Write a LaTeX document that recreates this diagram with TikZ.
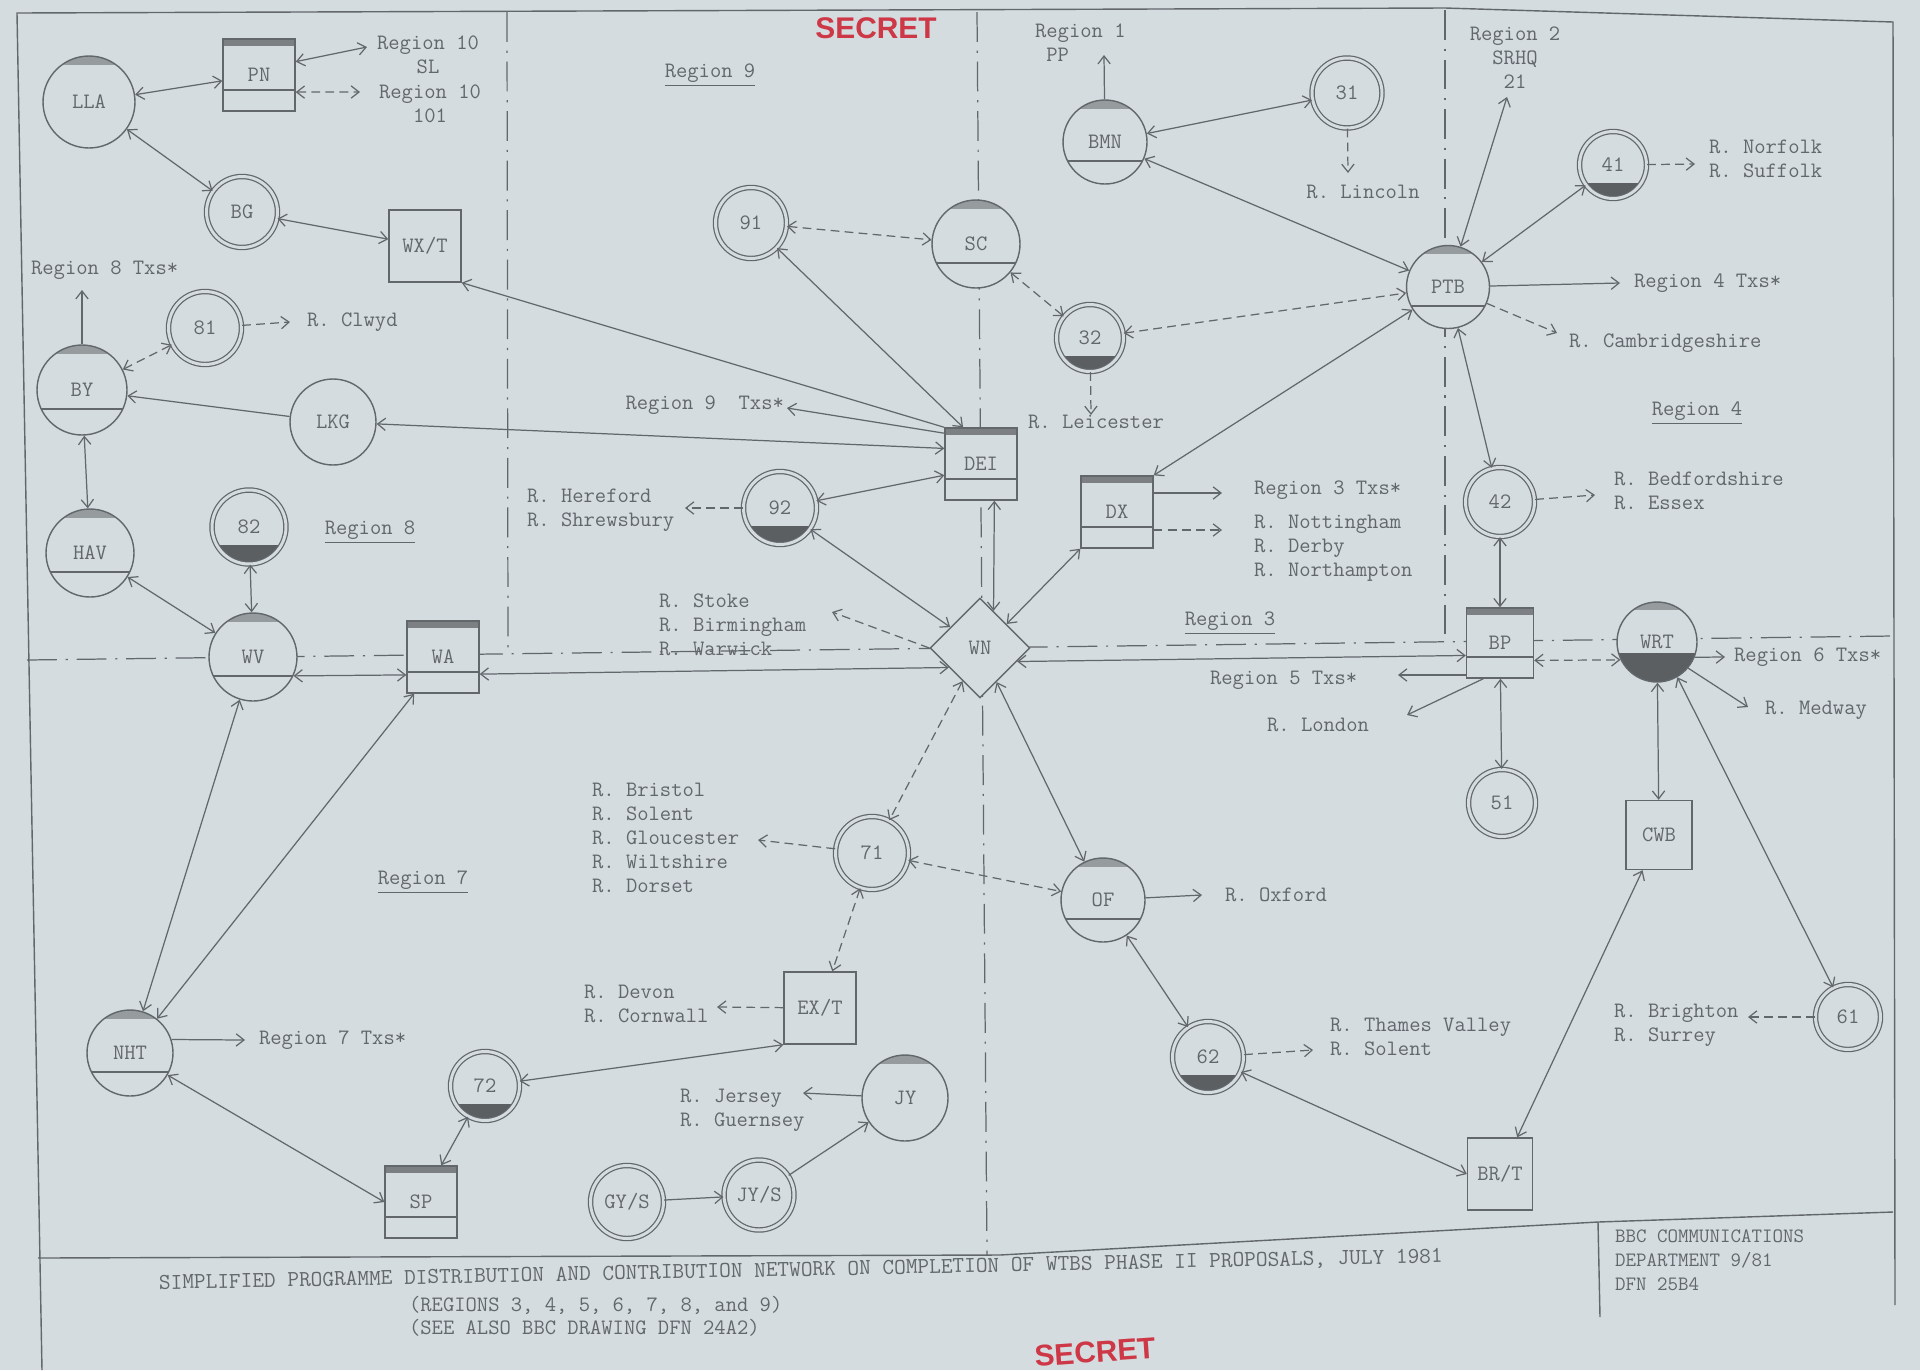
\documentclass[tikz,border=0pt]{standalone}
\usepackage{fontspec}
\newfontfamily\stampfont{Liberation Sans}
\usepackage{tikz}
\usetikzlibrary{arrows.meta,shapes.geometric}
\definecolor{paper}{RGB}{212,220,224}
\definecolor{ink}{RGB}{98,103,108}
\definecolor{capgray}{RGB}{150,155,158}
\definecolor{darkfill}{RGB}{92,95,98}
\definecolor{barfill}{RGB}{125,128,131}
\definecolor{stampred}{RGB}{205,55,70}

\begin{document}
\begin{tikzpicture}[x=0.02cm,y=-0.02cm,color=ink,
    >={Straight Barb[length=4.5pt,width=7pt]},
    font=\ttfamily\fontsize{12.5}{13.6}\selectfont,
    stn/.style={circle,draw,fill=paper,minimum size=1.74cm,inner sep=0pt,line width=0.8pt},
    topc/.style={stn,path picture={\fill[capgray] (path picture bounding box.north west) rectangle ([yshift=-0.17cm]path picture bounding box.north east);}},
    hub/.style={stn,path picture={\fill[capgray] (path picture bounding box.north west) rectangle ([yshift=-0.17cm]path picture bounding box.north east);
        \draw[line width=0.8pt] ([yshift=-0.38cm]path picture bounding box.west) -- ([yshift=-0.38cm]path picture bounding box.east);}},
    wrt/.style={stn,minimum size=1.6cm,path picture={\fill[capgray] (path picture bounding box.north west) rectangle ([yshift=-0.16cm]path picture bounding box.north east);
        \fill[darkfill] ([yshift=-0.22cm]path picture bounding box.west) rectangle (path picture bounding box.south east);}},
    rly/.style={circle,draw,double=paper,double distance=1.7pt,line width=0.7pt,fill=paper,minimum size=1.42cm,inner sep=0pt},
    rlyd/.style={rly,path picture={\fill[darkfill] ([yshift=-0.36cm]path picture bounding box.west) rectangle (path picture bounding box.south east);}},
    box/.style={rectangle,draw,fill=paper,minimum width=1.44cm,minimum height=1.44cm,inner sep=0pt,line width=0.8pt},
    boxh/.style={box,path picture={\fill[barfill] (path picture bounding box.north west) rectangle ([yshift=-0.14cm]path picture bounding box.north east);
        \draw[line width=0.8pt] ([yshift=0.42cm]path picture bounding box.south west) -- ([yshift=0.42cm]path picture bounding box.south east);}},
    dmd/.style={diamond,draw,fill=paper,minimum size=2cm,inner sep=0pt,line width=0.8pt},
    lk/.style={<->,line width=0.7pt},
    one/.style={->,line width=0.7pt},
    dsh/.style={dash pattern=on 5pt off 3pt},
    bdr/.style={line width=0.7pt,dash pattern=on 17pt off 5pt on 1.2pt off 5pt},
    lbl/.style={inner sep=1pt},
    stamp/.style={text=stampred,font=\stampfont\bfseries\fontsize{17}{17}\selectfont}]

\fill[paper] (0,0) rectangle (1920,1370);
\useasboundingbox (0,0) rectangle (1920,1370);

% frame and region boundaries
\draw[line width=0.8pt] (42,1370) -- (17,13) -- (1445,8) -- (1893,22) -- (1895,1305);
\draw[line width=0.8pt] (38,1258) -- (1000,1255) -- (1598,1222) -- (1893,1212);
\draw[line width=0.8pt] (1598,1222) -- (1600,1317);
\draw[bdr] (507,12) -- (508,650);
\draw[bdr] (977,12) -- (987,1255);
\draw[bdr] (1445,10) -- (1445,638);
\draw[bdr] (27,660) -- (1893,636);

% stations
\node[topc,minimum size=1.84cm] (LLA) at (89,102) {LLA};
\node[boxh] (PN) at (259,75) {PN};
\node[rly] (BG) at (242,212) {BG};
\node[box] (WXT) at (425,246) {WX/T};
\node[hub,minimum size=1.8cm] (BY) at (82,390) {BY};
\node[rly,minimum size=1.46cm] (s81) at (205,328) {81};
\node[stn,minimum size=1.72cm] (LKG) at (333,422) {LKG};
\node[hub,minimum size=1.76cm] (HAV) at (90,553) {HAV};
\node[rlyd,minimum size=1.48cm] (s82) at (249,527) {82};
\node[hub,minimum size=1.76cm] (WV) at (253,657) {WV};
\node[boxh] (WA) at (443,657) {WA};
\node[hub,minimum size=1.72cm] (NHT) at (130,1053) {NHT};
\node[boxh] (SP) at (421,1202) {SP};
\node[rlyd,minimum size=1.38cm] (s72) at (485,1086) {72};
\node[rly] (s91) at (751,223) {91};
\node[hub,minimum size=1.76cm] (SC) at (976,244) {SC};
\node[boxh] (DEI) at (981,464) {DEI};
\node[rlyd,minimum size=1.46cm] (s92) at (780,508) {92};
\node[dmd] (WN) at (980,648) {WN};
\node[rly,minimum size=1.46cm] (s71) at (872,853) {71};
\node[box] (EXT) at (820,1008) {EX/T};
\node[topc,minimum size=1.72cm] (JY) at (905,1098) {JY};
\node[rly,minimum size=1.46cm] (GYS) at (627,1202) {GY/S};
\node[rly,minimum size=1.4cm] (JYS) at (759,1195) {JY/S};
\node[hub,minimum size=1.68cm] (BMN) at (1105,142) {BMN};
\node[rly,minimum size=1.4cm] (s31) at (1347,93) {31};
\node[rlyd,minimum size=1.34cm] (s32) at (1090,338) {32};
\node[hub,minimum size=1.66cm] (PTB) at (1448,287) {PTB};
\node[rlyd,minimum size=1.34cm] (s41) at (1613,165) {41};
\node[boxh] (DX) at (1117,512) {DX};
\node[rly,minimum size=1.38cm] (s42) at (1500,502) {42};
\node[boxh,minimum width=1.34cm,minimum height=1.4cm] (BP) at (1500,643) {BP};
\node[rly,minimum size=1.34cm] (s51) at (1502,803) {51};
\node[wrt] (WRT) at (1657,642) {WRT};
\node[box,minimum width=1.32cm,minimum height=1.38cm] (CWB) at (1659,835) {CWB};
\node[rly,minimum size=1.3cm] (s61) at (1848,1017) {61};
\node[hub,minimum size=1.68cm] (OF) at (1103,900) {OF};
\node[rlyd,minimum size=1.42cm] (s62) at (1208,1057) {62};
\node[box,minimum width=1.3cm] (BRT) at (1500,1174) {BR/T};

% free ends
\coordinate (oSL) at (367,47);
\coordinate (o101) at (360,92);
\coordinate (o8tx) at (82,290);
\coordinate (oClw) at (290,322);
\coordinate (o9tx) at (787,408);
\coordinate (oHer) at (685,508);
\coordinate (oSto) at (832,612);
\coordinate (o7tx) at (245,1040);
\coordinate (oGlo) at (758,840);
\coordinate (oDev) at (717,1007);
\coordinate (oJer) at (803,1093);
\coordinate (oReg1) at (1104,55);
\coordinate (oLin) at (1348,173);
\coordinate (oLei) at (1091,415);
\coordinate (oReg2) at (1507,97);
\coordinate (oNor) at (1695,164);
\coordinate (o4tx) at (1620,283);
\coordinate (oCam) at (1557,333);
\coordinate (oBed) at (1595,495);
\coordinate (o3tx) at (1222,493);
\coordinate (oNot) at (1222,530);
\coordinate (o5tx) at (1398,675);
\coordinate (oLon) at (1407,715);
\coordinate (o6tx) at (1725,657);
\coordinate (oMed) at (1748,707);
\coordinate (oOxf) at (1202,895);
\coordinate (oThm) at (1313,1050);
\coordinate (oBri) at (1748,1017);

% links
\draw[lk] (LLA) -- (PN);
\draw[lk] (PN.20) -- (oSL);
\draw[lk,dsh] (PN.-25) -- (o101);
\draw[lk] (LLA) -- (BG);
\draw[lk] (BG) -- (WXT);
\draw[one] (DEI.north west) -- (WXT.south east);
\draw[one] (BY) -- (o8tx);
\draw[lk,dsh] (BY) -- (s81);
\draw[one,dsh] (s81) -- (oClw);
\draw[one] (LKG) -- (BY);
\draw[lk] (DEI.157) -- (LKG);
\draw[lk] (BY) -- (HAV);
\draw[lk] (HAV) -- (WV);
\draw[lk] (s82) -- (WV);
\draw[lk] (WV.-25) -- (WA.206);
\draw[lk] (WA.-25) -- (WN.212);
\draw[lk] (WV) -- (NHT);
\draw[lk] (WA) -- (NHT);
\draw[one] (NHT.18) -- (o7tx);
\draw[lk] (NHT) -- (SP.west);
\draw[lk] (SP) -- (s72);
\draw[lk] (s72) -- (EXT.south west);
\draw[one,dsh] (EXT) -- (oDev);
\draw[lk,dsh] (s71) -- (EXT);
\draw[one,dsh] (s71) -- (oGlo);
\draw[lk,dsh] (WN) -- (s71);
\draw[lk,dsh] (s71) -- (OF);
\draw[lk] (WN) -- (OF);
\draw[one] (OF) -- (oOxf);
\draw[lk] (OF) -- (s62);
\draw[one,dsh] (s62) -- (oThm);
\draw[lk] (s62) -- (BRT.west);
\draw[lk] (CWB) -- (BRT);
\draw[lk] (WRT) -- (CWB);
\draw[lk] (WRT.-60) -- (s61);
\draw[one,dsh] (s61) -- (oBri);
\draw[one] (GYS) -- (JYS);
\draw[one] (JYS) -- (JY);
\draw[one] (JY) -- (oJer);
\draw[lk,dsh] (s91) -- (SC);
\draw[lk] (DEI.116) -- (s91);
\draw[one] (DEI.140) -- (o9tx);
\draw[lk] (s92) -- (DEI.197);
\draw[one,dsh] (s92) -- (oHer);
\draw[lk] (s92) -- (WN);
\draw[one,dsh] (WN.west) -- (oSto);
\draw[lk] (DEI.-70) -- (WN.70);
\draw[lk] (WN.42) -- (DX.south west);
\draw[one] (o3tx -| DX.east) -- (o3tx);
\draw[one,dsh] (oNot -| DX.east) -- (oNot);
\draw[lk] (DX.north east) -- (PTB);
\draw[lk] (WN.-20) -- (BP.200);
\draw[one] (o5tx -| BP.west) -- (o5tx);
\draw[one] (BP.245) -- (oLon);
\draw[lk] (BP) -- (s42);
\draw[lk] (BP) -- (s51);
\draw[lk,dsh] (BP.-27) -- (WRT.206);
\draw[one] (WRT.-22) -- (o6tx);
\draw[one] (WRT.-40) -- (oMed);
\draw[lk] (PTB) -- (s42);
\draw[one] (PTB) -- (o4tx);
\draw[one,dsh] (PTB) -- (oCam);
\draw[lk] (PTB) -- (s41);
\draw[one,dsh] (s41) -- (oNor);
\draw[one,dsh] (s42) -- (oBed);
\draw[lk] (PTB) -- (oReg2);
\draw[lk] (BMN) -- (PTB);
\draw[lk,dsh] (s32) -- (PTB);
\draw[lk,dsh] (SC) -- (s32);
\draw[one,dsh] (s32) -- (oLei);
\draw[lk] (BMN) -- (s31);
\draw[one,dsh] (s31) -- (oLin);
\draw[one] (BMN) -- (oReg1);

% texts
\node[lbl,align=center] (tSL) at (428,55) {Region 10\\SL};
\node[lbl,align=center] (t101) at (430,104) {Region 10\\101};
\node[lbl,anchor=west] (t8tx) at (29,270) {Region 8 Txs*};
\node[lbl,anchor=west] (tClw) at (305,322) {R. Clwyd};
\node[lbl] (r9) at (710,75) {\underline{Region 9}};
\node[lbl,anchor=east] (t9tx) at (786,405) {Region 9\ \ Txs*};
\node[lbl] (r8) at (370,532) {\underline{Region 8}};
\node[lbl,anchor=west,align=left] (tHer) at (525,510) {R. Hereford\\R. Shrewsbury};
\node[lbl,anchor=west,align=left] (tSto) at (657,625) {R. Stoke\\R. Birmingham\\R. Warwick};
\node[lbl] (r7) at (423,882) {\underline{Region 7}};
\node[lbl,anchor=west,align=left] (tGlo) at (590,838) {R. Bristol\\R. Solent\\R. Gloucester\\R. Wiltshire\\R. Dorset};
\node[lbl,anchor=west] (t7tx) at (257,1040) {Region 7 Txs*};
\node[lbl,anchor=west,align=left] (tDev) at (582,1004) {R. Devon\\R. Cornwall};
\node[lbl,anchor=west,align=left] (tJer) at (678,1110) {R. Jersey\\R. Guernsey};
\node[lbl,anchor=west,align=left] (tReg1) at (1033,43) {Region 1\\\ PP};
\node[lbl] (tLin) at (1363,192) {R. Lincoln};
\node[lbl] (tLei) at (1096,422) {R. Leicester};
\node[lbl,align=center] (tReg2) at (1515,58) {Region 2\\SRHQ\\21};
\node[lbl,anchor=west,align=left] (tNor) at (1707,159) {R. Norfolk\\R. Suffolk};
\node[lbl,anchor=west] (t4tx) at (1632,283) {Region 4 Txs*};
\node[lbl,anchor=west] (tCam) at (1567,343) {R. Cambridgeshire};
\node[lbl] (r4) at (1697,413) {\underline{Region 4}};
\node[lbl,anchor=west,align=left] (tBed) at (1612,491) {R. Bedfordshire\\R. Essex};
\node[lbl,anchor=west] (t3tx) at (1252,490) {Region 3 Txs*};
\node[lbl,anchor=west,align=left] (tNot) at (1252,548) {R. Nottingham\\R. Derby\\R. Northampton};
\node[lbl] (r3) at (1230,623) {\underline{Region 3}};
\node[lbl,anchor=west] (t5tx) at (1208,680) {Region 5 Txs*};
\node[lbl] (tLon) at (1318,725) {R. London};
\node[lbl,anchor=west] (t6tx) at (1732,657) {Region 6 Txs*};
\node[lbl,anchor=west] (tMed) at (1763,710) {R. Medway};
\node[lbl,anchor=west] (tOxf) at (1223,895) {R. Oxford};
\node[lbl,anchor=west,align=left] (tThm) at (1328,1037) {R. Thames Valley\\R. Solent};
\node[lbl,anchor=west,align=left] (tBri) at (1612,1025) {R. Brighton\\R. Surrey};

% title block
\node[lbl,anchor=west,rotate=1.2,font=\ttfamily\fontsize{12.9}{13.6}\selectfont] (title) at (157,1284) {SIMPLIFIED PROGRAMME DISTRIBUTION AND CONTRIBUTION NETWORK ON COMPLETION OF WTBS PHASE II PROPOSALS, JULY 1981};
\node[lbl,anchor=west] (title2) at (407,1305) {(REGIONS 3, 4, 5, 6, 7, 8, and 9)};
\node[lbl,anchor=west] (title3) at (407,1328) {(SEE ALSO BBC DRAWING DFN 24A2)};
\node[lbl,anchor=west,align=left,font=\ttfamily\fontsize{11.6}{13.6}\selectfont] (tBBC) at (1613,1260) {BBC COMMUNICATIONS\\DEPARTMENT 9/81\\DFN 25B4};
\node[stamp] (sec1) at (876,28) {SECRET};
\node[stamp,rotate=4] (sec2) at (1095,1352) {SECRET};
\end{tikzpicture}
\end{document}
